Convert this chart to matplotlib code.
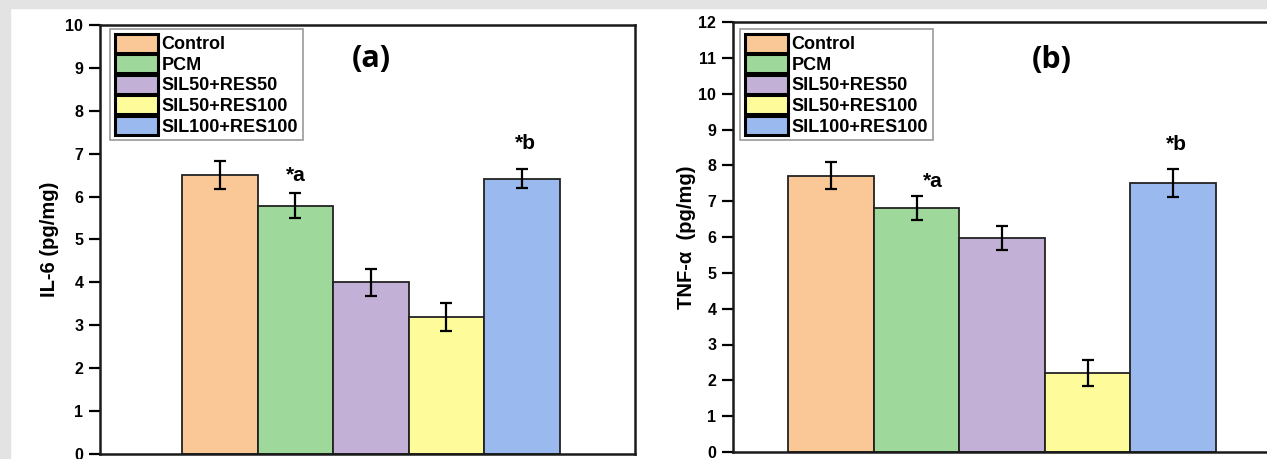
import matplotlib
matplotlib.use('Agg')
import matplotlib.pyplot as plt
from matplotlib.patches import Rectangle

groups = ['Control', 'PCM', 'SIL50+RES50', 'SIL50+RES100', 'SIL100+RES100']
colors = ['#fac896', '#9fd89b', '#c2b0d6', '#fdfb9a', '#9ab9ef']

il6 = [6.50, 5.79, 4.00, 3.19, 6.42]
il6_err = [0.33, 0.30, 0.32, 0.32, 0.22]
tnf = [7.71, 6.81, 5.97, 2.21, 7.51]
tnf_err = [0.38, 0.34, 0.34, 0.37, 0.38]

plt.rcParams['font.family'] = ['Liberation Sans', 'DejaVu Sans']
plt.rcParams['font.weight'] = 'bold'

W, H = 1267, 459
fig = plt.figure(figsize=(W/100, H/100), dpi=100)
fig.patch.set_facecolor('white')

# grey frame of the screenshot
fig.patches.append(Rectangle((0, 1-7.5/H), 1, 7.5/H, transform=fig.transFigure,
                             color='#e3e3e3', zorder=0))
fig.patches.append(Rectangle((0, 0), 9.5/W, 1, transform=fig.transFigure,
                             color='#e3e3e3', zorder=0))


def panel(rect, vals, errs, ymax, xlim, ylabel, ylab_x, tag, tag_xy, star_a, star_b, leg_anchor):
    ax = fig.add_axes(rect)
    x = list(range(len(vals)))
    ax.bar(x, vals, width=1.0, color=colors, edgecolor='#222222', linewidth=1.3,
           yerr=errs, capsize=4.5, error_kw=dict(ecolor='black', elinewidth=1.6, capthick=1.6),
           zorder=2)
    ax.set_xlim(*xlim)
    ax.set_ylim(0, ymax)
    ax.set_yticks(range(0, ymax+1))
    ax.set_xticks([])
    for s in ax.spines.values():
        s.set_linewidth(1.8)
        s.set_color('#1a1a1a')
    ax.tick_params(axis='y', direction='out', length=8, width=1.6, labelsize=11.5, pad=4)
    for lab in ax.get_yticklabels():
        lab.set_fontweight('bold')
    ax.set_ylabel(ylabel, fontsize=14.5, fontweight='bold')
    ax.yaxis.set_label_coords(ylab_x, 0.5)
    ax.text(tag_xy[0], tag_xy[1], tag, fontsize=22, fontweight='bold',
            family=['Open Sans', 'DejaVu Sans'], ha='center', va='center')
    ax.text(star_a[0], star_a[1], '*a', fontsize=15, fontweight='bold', ha='center', va='center')
    ax.text(star_b[0], star_b[1], '*b', fontsize=15, fontweight='bold', ha='center', va='center')
    handles = [Rectangle((0, 0), 1, 1, facecolor=c, edgecolor='black', linewidth=2.2) for c in colors]
    leg = ax.legend(handles, groups, loc='upper left', bbox_to_anchor=leg_anchor,
                    borderaxespad=0, fancybox=False, framealpha=1, edgecolor='#999999',
                    prop=dict(size=13, weight='bold'), handlelength=2.4, handleheight=1.25,
                    handletextpad=0.2, labelspacing=0.05, borderpad=0.25)
    leg.get_frame().set_linewidth(1.2)
    return ax


panel([100/W, 5/H, 535/W, 429/H], il6, il6_err, 10, (-1.59, 5.50),
      'IL-6 (pg/mg)', -0.076, '(a)', (2.0, 9.2), (1.0, 6.5), (4.05, 7.23), (0.019, 0.99))

panel([733/W, 7/H, 542/W, 430/H], tnf, tnf_err, 12, (-1.145, 5.19),
      'TNF-\u03b1  (pg/mg)', -0.069, '(b)', (2.58, 10.93), (1.19, 7.54), (4.04, 8.59), (0.013, 0.983))

fig.savefig('out.png', dpi=100)
